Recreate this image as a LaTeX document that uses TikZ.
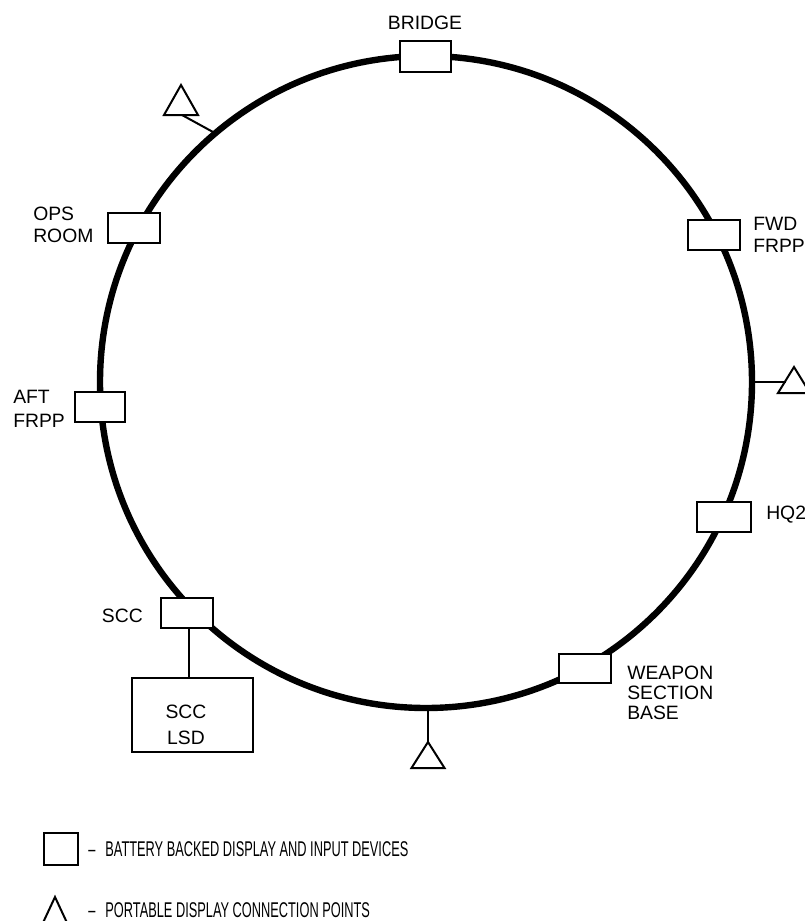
\documentclass[tikz,border=0pt]{standalone}
\usepackage{fontspec}
\setmainfont{Liberation Sans}
\usepackage{graphicx}
\begin{document}
\begin{tikzpicture}[x=0.75pt,y=-0.75pt,
  ring/.style={line width=4.8pt},
  dev/.style={draw, fill=white, line width=1.5pt, inner sep=0pt, minimum height=22.5pt, minimum width=39pt},
  thin/.style={line width=1.5pt},
  lbl/.style={font=\fontsize{14.5pt}{17pt}\selectfont, inner sep=0pt, align=left},
  lgd/.style={font=\fontsize{16pt}{18pt}\selectfont, inner sep=0pt, anchor=west},
  ]
\useasboundingbox (0,0) rectangle (805,921);
% ring
\draw[ring] (426,382) circle[radius=244.5pt];
% connection points on the ring
\coordinate (c1) at (213,132);
\coordinate (c2) at (753,382);
\coordinate (c3) at (428,708);
\coordinate (t1) at (182,115);
\coordinate (t2) at (785.5,382);
\coordinate (t3) at (428,742);
\draw[thin] (c1) -- (t1);
\draw[thin] (c2) -- (t2);
\draw[thin] (c3) -- (t3);
\begin{scope}
\clip (0,0) rectangle (805,921);
\draw[thin, line join=miter] (181,85) -- (198,115) -- (164,115) -- cycle;
\draw[thin, line join=miter] (794,367) -- (810,393) -- (778,393) -- cycle;
\draw[thin, line join=miter] (t3) -- (444.5,768) -- (411.5,768) -- cycle;
\draw[thin, line join=miter] (55,897) -- (69,927) -- (41,927) -- cycle;
\end{scope}
% devices
\node[dev, minimum width=38.25pt, minimum height=23pt] (bridge) at (425.5,56.5) {};
\node[dev] (ops) at (134,228) {};
\node[dev] (fwd) at (713.5,234.5) {};
\node[dev, minimum width=37.5pt] (aft) at (100,407) {};
\node[dev, minimum width=40.5pt] (hq2) at (724,517) {};
\node[dev] (scc) at (186.5,613) {};
\node[dev, minimum height=21.75pt] (wpn) at (584.5,668.5) {};
\node[draw, line width=1.5pt, inner sep=0pt, minimum width=90.75pt, minimum height=55.5pt] (lsd) at (192.5,715) {};
\draw[thin] ([xshift=1.9pt]scc.south) -- ([xshift=1.9pt]scc.south |- lsd.north);
% labels
\node[lbl] (tbridge) at (425,22.5) {BRIDGE};
\node[lbl, anchor=west] (tops) at (33,225) {OPS\\ROOM};
\node[lbl, anchor=west, font=\fontsize{14.5pt}{16.5pt}\selectfont] (tfwd) at (753,235) {FWD\\FRPP};
\node[lbl, anchor=west, font=\fontsize{14.5pt}{18pt}\selectfont] (taft) at (13,408.5) {AFT\\FRPP};
\node[lbl, anchor=west] (thq2) at (766,515) {HQ2};
\node[lbl, anchor=east] (tscc) at (143,616) {SCC};
\node[lbl, align=center, font=\fontsize{14.5pt}{19.5pt}\selectfont] (tlsd) at (186,724.5) {SCC\\LSD};
\node[lbl, anchor=west, font=\fontsize{14.5pt}{15pt}\selectfont] (twpn) at (627,693) {WEAPON\\SECTION\\BASE};
% legend
\node[dev, minimum width=25.5pt, minimum height=24pt] (legbox) at (61,849) {};
\node[lgd] (leg1) at (88,849) {\scalebox{0.6}[1]{–\hspace{12.5pt}BATTERY BACKED DISPLAY AND INPUT DEVICES}};
\node[lgd] (leg2) at (88,910) {\scalebox{0.6}[1]{–\hspace{12.5pt}PORTABLE DISPLAY CONNECTION POINTS}};
\end{tikzpicture}
\end{document}
